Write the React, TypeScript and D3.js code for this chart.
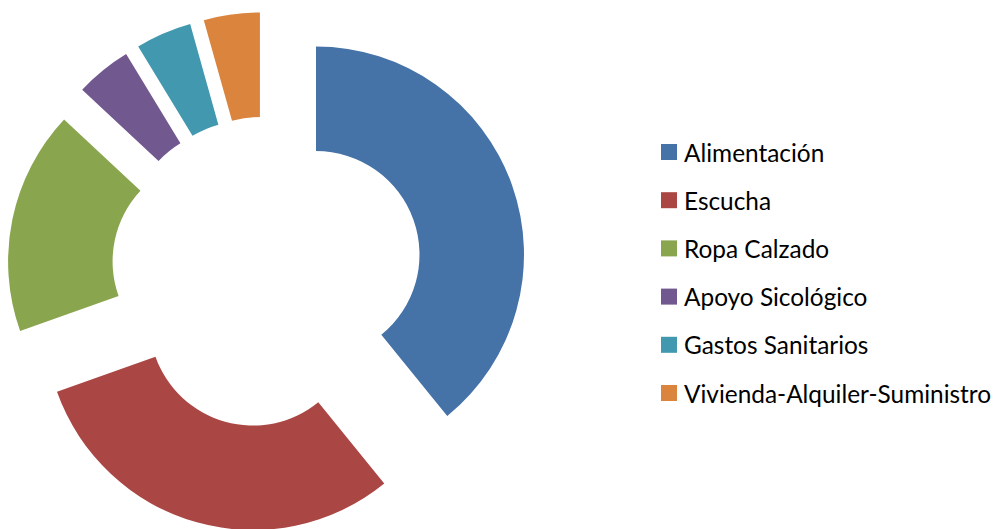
import * as d3 from "d3"

const categories = [
  "Alimentación",
  "Escucha",
  "Ropa Calzado",
  "Apoyo Sicológico",
  "Gastos Sanitarios",
  "Vivienda-Alquiler-Suministro",
]
const values = [9, 7, 4, 1, 1, 1]
const colors = ["#4572A7", "#AA4643", "#89A54E", "#71588F", "#4198AF", "#DB843D"]

const W = 1000
const H = 529

export default function App() {
  const cx = 267
  const cy = 272
  const outer = 208
  const inner = 103.5
  const explode = 52

  const pie = d3
    .pie<number>()
    .sort(null)
    .value((d) => d)
  const arcs = pie(values)

  const arc = d3.arc<d3.PieArcDatum<number>>().innerRadius(inner).outerRadius(outer)

  const legendY = d3
    .scalePoint<string>()
    .domain(categories)
    .range([152, 393])

  return (
    <div style={{ position: "absolute", left: 0, top: 0 }}>
      <svg width={W} height={H} viewBox={`0 0 ${W} ${H}`}>
        <rect width={W} height={H} fill="#ffffff" />
        <g transform={`translate(${cx},${cy})`}>
          {arcs.map((a, i) => {
            const mid = (a.startAngle + a.endAngle) / 2
            const dx = explode * Math.sin(mid)
            const dy = -explode * Math.cos(mid)
            return (
              <path
                key={categories[i]}
                d={arc(a) ?? ""}
                fill={colors[i]}
                transform={`translate(${dx},${dy})`}
              />
            )
          })}
        </g>

        <g fontFamily="Lato, 'Open Sans', sans-serif" fontSize={24.4}>
          {categories.map((c, i) => {
            const y = legendY(c) ?? 0
            return (
              <g key={c}>
                <rect x={661} y={y - 8} width={16} height={16} fill={colors[i]} />
                <text x={684} y={y} dominantBaseline="central" fill="#000000">
                  {c}
                </text>
              </g>
            )
          })}
        </g>
      </svg>
    </div>
  )
}
